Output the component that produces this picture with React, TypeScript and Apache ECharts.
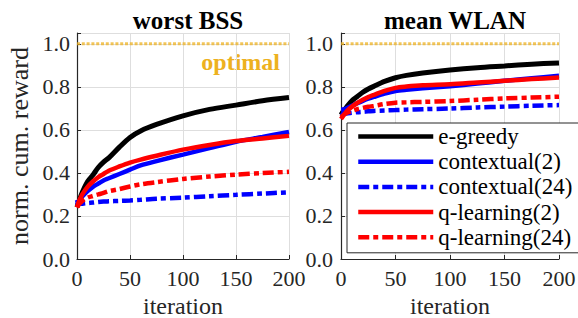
import React, { useEffect, useRef } from "react";
import * as echarts from "echarts";

const iterations = [0, 2, 5, 10, 15, 20, 25, 30, 40, 50, 60, 75, 100, 125, 150, 175, 200];
const seriesNames = ["e-greedy", "contextual(2)", "contextual(24)", "q-learning(2)", "q-learning(24)"];
const panelTitles = ["worst BSS", "mean WLAN"];
const yTicks = [0, 0.2, 0.4, 0.6, 0.8, 1.0];
const optimalValue = 1.0;

// worst BSS
const worstEGreedy = [0.24, 0.27, 0.31, 0.36, 0.39, 0.425, 0.45, 0.47, 0.52, 0.565, 0.595, 0.625, 0.665, 0.695, 0.715, 0.735, 0.75];
const worstContextual2 = [0.25, 0.27, 0.29, 0.315, 0.335, 0.35, 0.365, 0.375, 0.395, 0.415, 0.435, 0.455, 0.485, 0.515, 0.545, 0.567, 0.59];
const worstContextual24 = [0.275, 0.255, 0.257, 0.26, 0.262, 0.265, 0.267, 0.268, 0.27, 0.272, 0.275, 0.28, 0.285, 0.292, 0.298, 0.304, 0.31];
const worstQLearning2 = [0.24, 0.27, 0.3, 0.335, 0.36, 0.38, 0.395, 0.41, 0.43, 0.448, 0.462, 0.48, 0.508, 0.53, 0.548, 0.56, 0.572];
const worstQLearning24 = [0.24, 0.255, 0.27, 0.285, 0.293, 0.3, 0.307, 0.315, 0.325, 0.337, 0.347, 0.357, 0.372, 0.383, 0.392, 0.399, 0.405];

// mean WLAN
const meanEGreedy = [0.67, 0.685, 0.705, 0.735, 0.755, 0.775, 0.79, 0.802, 0.825, 0.842, 0.853, 0.864, 0.878, 0.889, 0.897, 0.905, 0.911];
const meanContextual2 = [0.695, 0.695, 0.7, 0.712, 0.724, 0.735, 0.745, 0.753, 0.768, 0.78, 0.786, 0.793, 0.803, 0.815, 0.828, 0.84, 0.851];
const meanContextual24 = [0.68, 0.675, 0.676, 0.679, 0.682, 0.684, 0.686, 0.688, 0.69, 0.692, 0.694, 0.696, 0.699, 0.704, 0.708, 0.712, 0.715];
const meanQLearning2 = [0.65, 0.665, 0.685, 0.708, 0.725, 0.74, 0.752, 0.762, 0.781, 0.795, 0.801, 0.807, 0.812, 0.82, 0.828, 0.836, 0.843];
const meanQLearning24 = [0.66, 0.668, 0.678, 0.688, 0.696, 0.702, 0.707, 0.711, 0.72, 0.726, 0.728, 0.73, 0.734, 0.74, 0.746, 0.75, 0.754];

const FONT = "Liberation Serif";

export default function App() {
  const ref = useRef<HTMLDivElement>(null);
  useEffect(() => {
    if (!ref.current) return;
    const chart = echarts.init(ref.current, null, { renderer: "svg" });

    const panels = [
      [worstEGreedy, worstContextual2, worstContextual24, worstQLearning2, worstQLearning24],
      [meanEGreedy, meanContextual2, meanContextual24, meanQLearning2, meanQLearning24],
    ];
    const styles = [
      { color: "#000000", width: 5, type: "solid" as any },
      { color: "#0000ff", width: 4.5, type: "solid" as any },
      { color: "#0000ff", width: 4.5, type: [11, 4, 5, 4] as any },
      { color: "#ff0000", width: 4.5, type: "solid" as any },
      { color: "#ff0000", width: 4.5, type: [11, 4, 5, 4] as any },
    ];

    const grids = [
      { left: 77, top: 33, width: 212, height: 226, outerBoundsMode: "none" },
      { left: 341, top: 33, width: 218, height: 226, outerBoundsMode: "none" },
    ];

    const xAxes = grids.map((_, i) => ({
      type: "value",
      gridIndex: i,
      min: 0,
      max: 200,
      interval: 50,
      name: "iteration",
      nameLocation: "middle",
      nameGap: 26,
      nameTextStyle: { fontFamily: FONT, fontSize: 24, lineHeight: 24, color: "#262626" },
      axisLine: { show: true, lineStyle: { color: "#262626", width: 1.2 } },
      axisTick: { show: true, inside: true, length: 4, lineStyle: { color: "#262626" } },
      axisLabel: { fontFamily: FONT, fontSize: 22, color: "#262626", margin: 8 },
      splitLine: { show: true, lineStyle: { color: "#dedede", width: 1 } },
    }));

    const yAxes = grids.map((_, i) => ({
      type: "value",
      gridIndex: i,
      min: 0,
      max: 1.05,
      interval: 0.2,
      name: i === 0 ? "norm. cum. reward" : "",
      nameLocation: "middle",
      nameGap: 45,
      nameTextStyle: { fontFamily: FONT, fontSize: 26, color: "#262626" },
      axisLine: { show: true, lineStyle: { color: "#262626", width: 1.2 } },
      axisTick: { show: true, inside: true, length: 4, lineStyle: { color: "#262626" } },
      axisLabel: {
        fontFamily: FONT,
        fontSize: 22,
        color: "#262626",
        margin: i === 0 ? 7 : 8,
        formatter: (v: number) => (yTicks.some((t) => Math.abs(t - v) < 1e-6) ? v.toFixed(1) : ""),
      },
      splitLine: { show: true, lineStyle: { color: "#dedede", width: 1 } },
    }));

    const series: any[] = [];
    panels.forEach((panel, p) => {
      series.push({
        name: "optimal",
        type: "line",
        xAxisIndex: p,
        yAxisIndex: p,
        data: [
          [iterations[0], optimalValue],
          [iterations[iterations.length - 1], optimalValue],
        ],
        symbol: "none",
        lineStyle: { color: "#EDB120", opacity: 0.75, width: 3, type: [3, 1.8] },
        z: 1,
      });
      panel.forEach((vals, s) => {
        series.push({
          name: seriesNames[s],
          type: "line",
          xAxisIndex: p,
          yAxisIndex: p,
          data: iterations.map((it, k) => [it, vals[k]]),
          symbol: "none",
          smooth: 0.3,
          color: styles[s].color,
          lineStyle: { color: styles[s].color, width: styles[s].width, type: styles[s].type },
          z: 3 + s,
        });
      });
    });

    chart.setOption({
      animation: false,
      backgroundColor: "#ffffff",
      title: panelTitles.map((t, i) => ({
        text: t,
        left: grids[i].left + grids[i].width / 2,
        textAlign: "center",
        top: 3,
        textStyle: { fontFamily: FONT, fontSize: 25, fontWeight: "bold", color: "#000" },
      })),
      grid: grids,
      xAxis: xAxes,
      yAxis: yAxes,
      legend: {
        data: seriesNames,
        orient: "vertical",
        left: 347,
        top: 123,
        itemWidth: 75,
        itemHeight: 14,
        itemGap: 0.2,
        padding: [1, 11, 3, 9],
        backgroundColor: "#ffffff",
        borderColor: "#262626",
        borderWidth: 1,
        borderRadius: 0,
        itemStyle: { opacity: 0 },
        lineStyle: { width: 4.5 },
        textStyle: { fontFamily: FONT, fontSize: 23, color: "#000", lineHeight: 25 },
      },
      graphic: [
        {
          type: "text",
          right: 578 - 280,
          top: 50,
          style: {
            text: "optimal",
            fill: "#EDB120",
            fontFamily: FONT,
            fontSize: 24,
            fontWeight: "bold",
          },
        },
      ],
      series,
    });
    return () => chart.dispose();
  }, []);
  return <div ref={ref} style={{ position: "fixed", left: 0, top: 0, width: 578, height: 318 }} />;
}
